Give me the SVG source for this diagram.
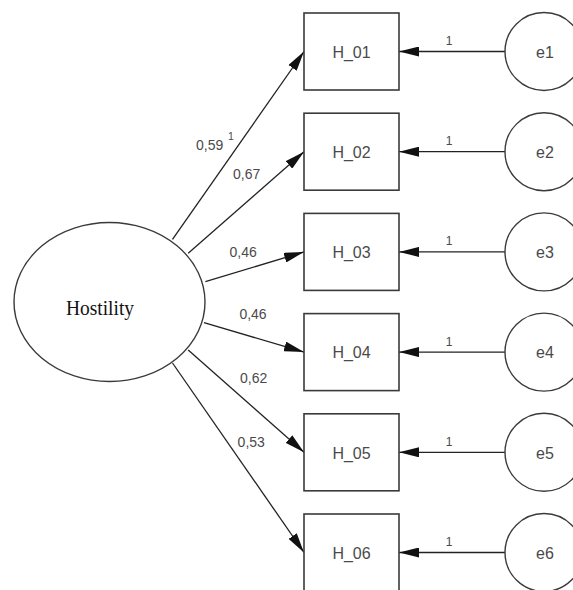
<svg xmlns="http://www.w3.org/2000/svg" width="573" height="590" viewBox="0 0 573 590">
<style>
.box{fill:#fff;stroke:#3a3a3a;stroke-width:1.6}
.err{fill:#fff;stroke:#3a3a3a;stroke-width:1.4}
.lat{fill:#fff;stroke:#3a3a3a;stroke-width:1.4}
.edge{stroke:#222;stroke-width:1.3;fill:none;marker-end:url(#ah)}
.t{font-family:"Liberation Sans",Arial,sans-serif;fill:#4a4a4a}
.nl{font-size:16px;text-anchor:middle}
.w{font-size:14px}
.one{font-size:12px;text-anchor:middle}
.sup{font-size:10.5px}
.h{font-family:"Liberation Serif","Times New Roman",serif;font-size:21px;fill:#111;text-anchor:middle}
</style>
<defs>
<marker id="ah" markerUnits="userSpaceOnUse" markerWidth="20" markerHeight="10" refX="20" refY="5" orient="auto" viewBox="0 0 20 10">
<path d="M0,0 L20,5 L0,10 z" fill="#111"/>
</marker>
</defs>
<g id="connectors">
<line class="edge" x1="172.5" y1="239.3" x2="304" y2="51.5"/>
<line class="edge" x1="188.2" y1="253.3" x2="304" y2="151.7"/>
<line class="edge" x1="205.4" y1="281.7" x2="304" y2="251.9"/>
<line class="edge" x1="204" y1="322.7" x2="304" y2="352.1"/>
<line class="edge" x1="188.2" y1="350" x2="304" y2="452.3"/>
<line class="edge" x1="172.5" y1="363" x2="304" y2="552.5"/>
<line class="edge" x1="505" y1="51.5" x2="399" y2="51.5"/>
<line class="edge" x1="505" y1="151.7" x2="399" y2="151.7"/>
<line class="edge" x1="505" y1="251.9" x2="399" y2="251.9"/>
<line class="edge" x1="505" y1="352.1" x2="399" y2="352.1"/>
<line class="edge" x1="505" y1="452.3" x2="399" y2="452.3"/>
<line class="edge" x1="505" y1="552.5" x2="399" y2="552.5"/>
<text class="t w" x="196" y="150">0,59</text>
<text class="t sup" x="228" y="139.5">1</text>
<text class="t w" x="233" y="179.3">0,67</text>
<text class="t w" x="229.5" y="256.7">0,46</text>
<text class="t w" x="239.4" y="319.3">0,46</text>
<text class="t w" x="240" y="382.7">0,62</text>
<text class="t w" x="237.6" y="446.7">0,53</text>
<text class="t one" x="449" y="45">1</text>
<text class="t one" x="449" y="145.2">1</text>
<text class="t one" x="449" y="245.4">1</text>
<text class="t one" x="449" y="345.6">1</text>
<text class="t one" x="449" y="445.8">1</text>
<text class="t one" x="449" y="546">1</text>
</g>
<g id="Hostility">
<ellipse class="lat" cx="109.5" cy="302" rx="95.5" ry="79.5"/>
<text class="h" x="100" y="315" textLength="68" lengthAdjust="spacingAndGlyphs">Hostility</text>
</g>
<g id="H_01"><rect class="box" x="304" y="13" width="95" height="77"/><text class="t nl" x="351.5" y="57.8">H_01</text></g>
<g id="H_02"><rect class="box" x="304" y="113.2" width="95" height="77"/><text class="t nl" x="351.5" y="158">H_02</text></g>
<g id="H_03"><rect class="box" x="304" y="213.4" width="95" height="77"/><text class="t nl" x="351.5" y="258.2">H_03</text></g>
<g id="H_04"><rect class="box" x="304" y="313.6" width="95" height="77"/><text class="t nl" x="351.5" y="358.4">H_04</text></g>
<g id="H_05"><rect class="box" x="304" y="413.8" width="95" height="77"/><text class="t nl" x="351.5" y="458.6">H_05</text></g>
<g id="H_06"><rect class="box" x="304" y="514" width="95" height="77"/><text class="t nl" x="351.5" y="558.8">H_06</text></g>
<g id="e1"><circle class="err" cx="544" cy="51.5" r="39"/><text class="t nl" x="545" y="57.8">e1</text></g>
<g id="e2"><circle class="err" cx="544" cy="151.7" r="39"/><text class="t nl" x="545" y="158">e2</text></g>
<g id="e3"><circle class="err" cx="544" cy="251.9" r="39"/><text class="t nl" x="545" y="258.2">e3</text></g>
<g id="e4"><circle class="err" cx="544" cy="352.1" r="39"/><text class="t nl" x="545" y="358.4">e4</text></g>
<g id="e5"><circle class="err" cx="544" cy="452.3" r="39"/><text class="t nl" x="545" y="458.6">e5</text></g>
<g id="e6"><circle class="err" cx="544" cy="552.5" r="39"/><text class="t nl" x="545" y="558.8">e6</text></g>
</svg>
